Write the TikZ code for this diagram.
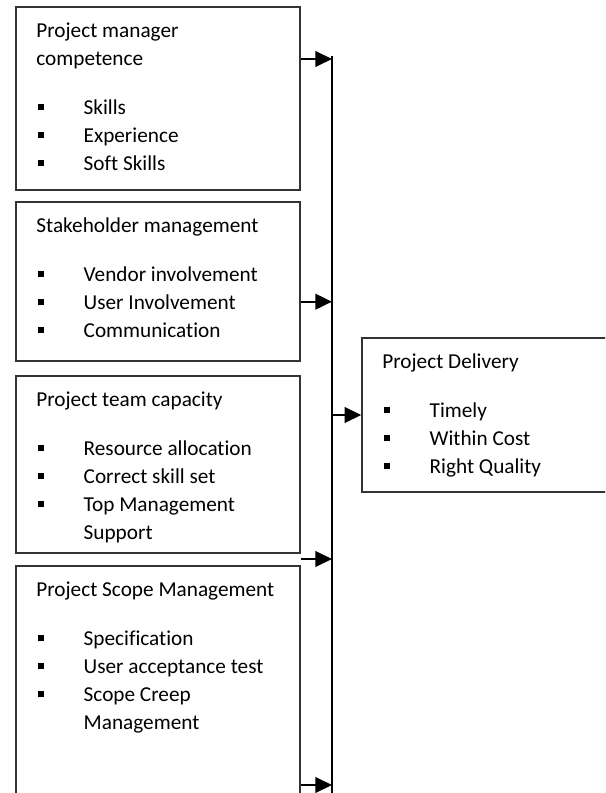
\documentclass[tikz,border=0pt]{standalone}
\usepackage{fontspec}
\setmainfont{Carlito}[Ligatures={NoCommon,NoContextual}]
\usetikzlibrary{arrows.meta}
\newcommand\pbul{\makebox[22.7pt][l]{\hspace*{0.8pt}\rule[2.1pt]{2.9pt}{2.9pt}}}
\newcommand\pind{\hspace*{22.7pt}}

\begin{document}
\begin{tikzpicture}[x=0.48pt,y=-0.48pt,
  factor/.style={draw=black!80,line width=0.7pt,minimum width=284*0.48pt,inner sep=0},
  words/.style={anchor=north west,inner sep=0,align=left,font=\fontsize{10.2}{13.44}\selectfont},
  feed/.style={line width=1pt,-{Triangle[length=8pt,width=7.5pt]}},
  bus/.style={line width=0.65pt}]
\useasboundingbox (0,0) rectangle (605,793);
\clip (0,0) rectangle (605,793);
\node[factor,minimum height=183*0.48pt] (pmc) at (158,98.5) {};
\node[factor,minimum height=159*0.48pt] (stake) at (158,281.5) {};
\node[factor,minimum height=177*0.48pt] (team) at (158,464.5) {};
\node[factor,minimum height=234*0.48pt] (scope) at (158,683) {};
\node[factor,minimum width=250*0.48pt,minimum height=154*0.48pt] (delivery) at (487,415) {};
\node[words] (pmctext) at ([shift={(20.7,11.1)}]pmc.north west)
  {\strut Project manager\\ competence\\[10.2pt] \pbul Skills\\ \pbul Experience\\ \pbul Soft Skills};
\node[words] (staketext) at ([shift={(20.7,11.1)}]stake.north west)
  {\strut Stakeholder management\\[10.2pt] \pbul Vendor involvement\\ \pbul User Involvement\\ \pbul Communication};
\node[words] (teamtext) at ([shift={(20.7,11.1)}]team.north west)
  {\strut Project team capacity\\[10.2pt] \pbul Resource allocation\\ \pbul Correct skill set\\ \pbul Top Management\\ \pind Support};
\node[words] (scopetext) at ([shift={(20.7,11.1)}]scope.north west)
  {\strut Project Scope Management\\[10.2pt] \pbul Specification\\ \pbul User acceptance test\\ \pbul Scope Creep\\ \pind Management};
\node[words] (deliverytext) at ([shift={(20.7,11.1)}]delivery.north west)
  {\strut Project Delivery\\[10.2pt] \pbul Timely\\ \pbul Within Cost\\ \pbul Right Quality};
\coordinate (bustop) at (332,56);
\coordinate (busbot) at (332,800);
\coordinate (y1) at (0,59);
\coordinate (y2) at (0,301.7);
\coordinate (y3) at (0,559);
\coordinate (y4) at (0,785);
\draw[bus] (bustop) -- (busbot);
\draw[feed] (pmc.east |- y1) -- (bustop |- y1);
\draw[feed] (stake.east |- y2) -- (bustop |- y2);
\draw[feed] (team.east |- y3) -- (bustop |- y3);
\draw[feed] (scope.east |- y4) -- (bustop |- y4);
\draw[feed] (bustop |- delivery.west) -- (delivery.west);
\end{tikzpicture}
\end{document}
